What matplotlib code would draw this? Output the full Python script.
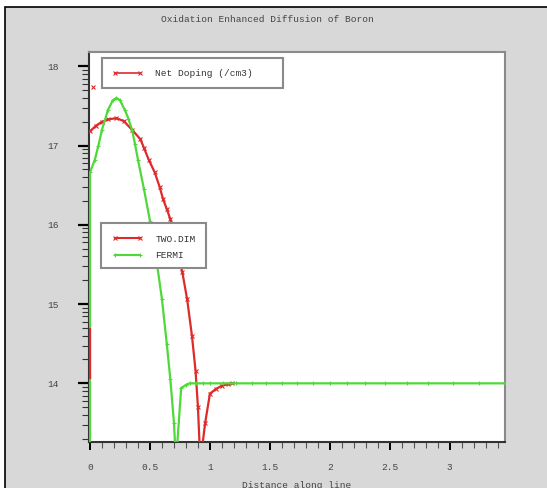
import numpy as np
import matplotlib.pyplot as plt
from matplotlib.lines import Line2D
from matplotlib.patches import Rectangle

# log10 of net doping along the cut line
x_two = [0.0, 0.05, 0.10, 0.15, 0.22, 0.28, 0.35, 0.42, 0.45, 0.49, 0.54, 0.58, 0.61,
         0.64, 0.67, 0.70, 0.74, 0.77, 0.81, 0.85, 0.88, 0.90, 0.92, 0.96, 1.00,
         1.05, 1.10, 1.15, 1.18]
y_two = [17.18, 17.25, 17.30, 17.33, 17.345, 17.31, 17.20, 17.08, 16.97, 16.82, 16.66, 16.48, 16.32,
         16.20, 16.07, 15.88, 15.60, 15.40, 15.06, 14.60, 14.16, 13.70, 13.00, 13.50, 13.87,
         13.93, 13.97, 13.99, 14.00]

x_fermi = [0.0, 0.0, 0.04, 0.07, 0.10, 0.15, 0.19, 0.22, 0.25, 0.29, 0.32, 0.35, 0.375, 0.40, 0.45,
           0.50, 0.55, 0.60, 0.64, 0.67, 0.70, 0.717, 0.76, 0.80, 0.83, 0.88, 0.94,
           1.00, 1.11, 1.22, 1.35, 1.47, 1.60, 1.73, 1.86, 2.00, 2.14, 2.29, 2.46,
           2.64, 2.82, 3.03, 3.24, 3.46]
y_fermi = [13.0, 16.66, 16.82, 17.00, 17.20, 17.45, 17.57, 17.60, 17.57, 17.45, 17.34, 17.20, 17.02, 16.82, 16.45,
           16.05, 15.60, 15.06, 14.50, 14.05, 13.50, 13.00, 13.94, 13.98, 14.00, 14.00, 14.00,
           14.00, 14.00, 14.00, 14.00, 14.00, 14.00, 14.00, 14.00, 14.00, 14.00, 14.00, 14.00,
           14.00, 14.00, 14.00, 14.00, 14.00]

# short red piece at the surface and a lone marker
x_two_surf = [0.0, 0.0]
y_two_surf = [14.07, 14.68]
x_two_mark = [0.028]
y_two_mark = [17.74]

title = 'Oxidation Enhanced Diffusion of Boron'
xlabel = 'Distance along line'
W, H = 547, 488
red = '#dd2a2a'
green = '#4fd83a'
mono = 'Liberation Mono'
fs = 6.8


def fx(px):
    return px / W


def fy(py):
    return 1 - py / H


fig = plt.figure(figsize=(W / 100, H / 100), dpi=100, facecolor='white')
fig.patches.append(Rectangle((fx(5), -0.1), 1.2, fy(7) + 0.1, transform=fig.transFigure,
                             facecolor='#d8d8d8', edgecolor='black', lw=1.2, zorder=-5))

ax = fig.add_axes([fx(89), fy(442), fx(505) - fx(89), fy(52) - fy(442)])
ax.set_facecolor('white')

ax.plot(x_two, y_two, color=red, lw=1.6, marker='x', ms=3, mew=0.8, zorder=3)
ax.plot(x_fermi, y_fermi, color=green, lw=1.6, marker='+', ms=3, mew=0.8, zorder=3)
ax.plot(x_two_surf, y_two_surf, color=red, lw=1.6, zorder=3)
ax.plot(x_two_mark, y_two_mark, color=red, lw=0, marker='x', ms=3, mew=0.8, zorder=3)

ax.set_xlim(-1 / 120, 3.46)
ax.set_ylim(13.26, 18.18)

ax.set_xticks(np.arange(0, 3.01, 0.5))
ax.set_xticklabels(['0', '0.5', '1', '1.5', '2', '2.5', '3'])
ax.set_xticks(np.arange(0, 3.45, 0.1), minor=True)
ax.set_yticks([14, 15, 16, 17, 18])
ax.set_yticklabels(['14', '15', '16', '17', '18'])
ax.set_yticks([d + np.log10(k) for d in range(13, 18) for k in range(2, 10)
               if 13.26 < d + np.log10(k) < 18.18], minor=True)

for lab in ax.get_xticklabels() + ax.get_yticklabels():
    lab.set_fontfamily(mono)
    lab.set_fontsize(fs)
    lab.set_color('#444444')

ax.tick_params(axis='y', which='major', length=8, width=1.6, pad=14, color='black')
ax.tick_params(axis='y', which='minor', length=5, width=0.8, color='#333333')
ax.tick_params(axis='x', which='major', length=6, width=1.4, pad=9, color='black')
ax.tick_params(axis='x', which='minor', length=4, width=0.8, color='#555555')

for side in ['left', 'bottom']:
    ax.spines[side].set_color('#333333')
    ax.spines[side].set_linewidth(1.5)
for side in ['top', 'right']:
    ax.spines[side].set_color('#8a8a8a')
    ax.spines[side].set_linewidth(1.5)

fig.text(fx(267), fy(19), title, ha='center', va='center', fontfamily=mono,
         fontsize=fs, color='#444444')
fig.text(fx(297), fy(485), xlabel, ha='center', va='center', fontfamily=mono,
         fontsize=fs, color='#444444')

# legend boxes
for (x0, y0, x1, y1) in [(102, 58, 283, 88), (101, 223, 206, 268)]:
    fig.patches.append(Rectangle((fx(x0), fy(y1)), fx(x1) - fx(x0), fy(y0) - fy(y1),
                                 transform=fig.transFigure, facecolor='white',
                                 edgecolor='#8a8a8a', lw=1.5, zorder=4))

h_net = Line2D([], [], color=red, lw=1.2, marker='x', ms=3, mew=0.8)
leg1 = fig.legend([h_net], ['Net Doping (/cm3)'], loc='center left',
                  bbox_to_anchor=(fx(112), fy(74)), bbox_transform=fig.transFigure,
                  frameon=False, borderpad=0, borderaxespad=0, handlelength=3.3,
                  handletextpad=1.3, numpoints=2, prop={'family': mono, 'size': fs})
leg1.set_zorder(5)

h_two = Line2D([], [], color=red, lw=1.5, marker='x', ms=3, mew=0.8)
h_fermi = Line2D([], [], color=green, lw=1.5, marker='+', ms=3, mew=0.8)
leg2 = fig.legend([h_two, h_fermi], ['TWO.DIM', 'FERMI'], loc='center left',
                  bbox_to_anchor=(fx(112), fy(247.5)), bbox_transform=fig.transFigure,
                  frameon=False, borderpad=0, borderaxespad=0, handlelength=3.3,
                  handletextpad=1.3, labelspacing=0.8, numpoints=2,
                  prop={'family': mono, 'size': fs})
leg2.set_zorder(5)

for t in leg1.get_texts() + leg2.get_texts():
    t.set_color('#333333')

fig.savefig('out.png', dpi=100)
